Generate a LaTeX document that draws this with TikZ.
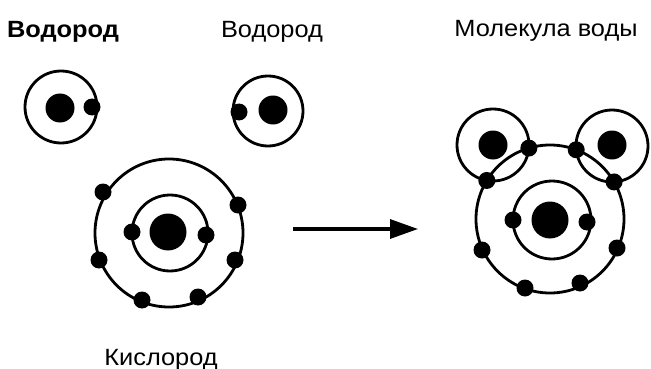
\documentclass[tikz,border=0pt]{standalone}
\usepackage{fontspec}
\setmainfont{Liberation Sans}[FakeStretch=1.08]
\usetikzlibrary{intersections,arrows.meta}
\begin{document}
\begin{tikzpicture}[x=1pt,y=-1pt,
  shell/.style={draw=black,line width=2.8pt},
  nucleus/.style={circle,fill=black,inner sep=0pt,minimum size=#1},
  nucleus/.default=29pt,
  electron/.style={circle,fill=black,inner sep=0pt,minimum size=17pt},
  caption/.style={font=\fontsize{23.5}{28}\selectfont,inner sep=0pt,anchor=base}]
\useasboundingbox (0,0) rectangle (651,369);

% ---- captions ----
\node[caption,font=\fontsize{23.5}{28}\selectfont\bfseries] (capH1) at (63,38) {Водород};
\node[caption] (capH2) at (272,38) {Водород};
\node[caption] (capW) at (546,37) {Молекула воды};
\node[caption] (capO) at (161,365) {Кислород};

% ---- free hydrogen atom (left) ----
\draw[shell] (61,107) circle[radius=36];
\node[nucleus] (h1n) at (60,108) {};
\node[electron] (h1e) at (92,107) {};

% ---- free hydrogen atom (right) ----
\draw[shell] (268,111) circle[radius=35];
\node[nucleus] (h2n) at (273,110) {};
\node[electron] (h2e) at (239,112) {};

% ---- oxygen atom ----
\draw[shell] (169,233) circle[radius=74];
\draw[shell] (170,233) circle[radius=38];
\node[nucleus=37pt] (on) at (168,232) {};
\node[electron] (oi1) at (132,232) {};
\node[electron] (oi2) at (206,235) {};
\node[electron] (oo1) at (103,192) {};
\node[electron] (oo2) at (238,205) {};
\node[electron] (oo3) at (99,260) {};
\node[electron] (oo4) at (235,260) {};
\node[electron] (oo5) at (142,300) {};
\node[electron] (oo6) at (198,297) {};

% ---- reaction arrow ----
\coordinate (arrtail) at (293,229);
\coordinate (arrtip) at (418,229);
\draw[line width=3.2pt,-{Triangle[length=28pt,width=19pt]}] (arrtail) -- (arrtip);

% ---- water molecule ----
\draw[shell,name path=wO] (550,219) circle[radius=74];
\draw[shell] (552,220) circle[radius=39];
\draw[shell,name path=wH1] (493,145) circle[radius=36];
\draw[shell,name path=wH2] (612,146) circle[radius=36];
\node[nucleus=37pt] (wn) at (550,220) {};
\node[nucleus] (wh1n) at (493,145) {};
\node[nucleus] (wh2n) at (612,145) {};
\node[electron] (wi1) at (513,220) {};
\node[electron] (wi2) at (587,222) {};
\node[electron] (wo1) at (482,250) {};
\node[electron] (wo2) at (617,248) {};
\node[electron] (wo3) at (525,288) {};
\node[electron] (wo4) at (580,283) {};
% shared electron pairs sit where the shells cross
\path[name intersections={of=wO and wH1,by={s1,s2}}];
\path[name intersections={of=wO and wH2,by={s3,s4}}];
\node[electron] (ws1) at (s1) {};
\node[electron] (ws2) at (s2) {};
\node[electron] (ws3) at (s3) {};
\node[electron] (ws4) at (s4) {};
\end{tikzpicture}
\end{document}
